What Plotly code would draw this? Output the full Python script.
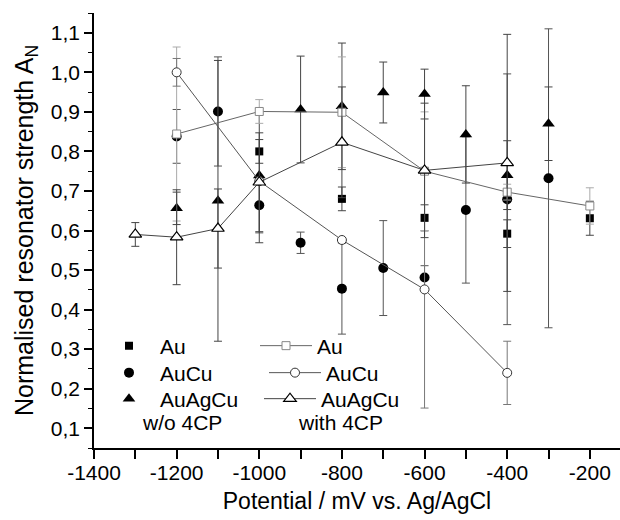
import plotly.graph_objects as go

# ---- data ----
x_au = [-1000, -800, -600, -400, -200]
y_au = [0.800, 0.680, 0.632, 0.592, 0.631]
e_au = [0.030, 0.030, 0.033, 0.035, 0.043]

x_aucu = [-1200, -1100, -1000, -900, -800, -700, -600, -500, -400, -300]
y_aucu = [0.838, 0.901, 0.664, 0.569, 0.453, 0.505, 0.481, 0.652, 0.679, 0.732]
e_aucu = [0.068, 0.138, 0.070, 0.027, 0.115, 0.120, 0.030, 0.185, 0.317, 0.378]

x_auagcu = [-1200, -1100, -1000, -900, -800, -700, -600, -500, -400, -300]
y_auagcu = [0.656, 0.675, 0.739, 0.906, 0.914, 0.949, 0.945, 0.843, 0.740, 0.870]
e_auagcu = [0.041, 0.355, 0.170, 0.135, 0.160, 0.077, 0.063, 0.123, 0.087, 0.093]

x_au4 = [-1200, -1000, -800, -600, -400, -200]
y_au4 = [0.844, 0.901, 0.899, 0.750, 0.697, 0.662]
e_au4 = [0.220, 0.030, 0.140, 0.150, 0.020, 0.046]

x_aucu4 = [-1200, -1000, -800, -600, -400]
y_aucu4 = [1.000, 0.725, 0.576, 0.451, 0.240]
e_aucu4 = [0.035, 0.000, 0.000, 0.300, 0.080]

x_auagcu4 = [-1300, -1200, -1100, -1000, -800, -600, -400]
y_auagcu4 = [0.590, 0.583, 0.605, 0.722, 0.823, 0.752, 0.771]
e_auagcu4 = [0.030, 0.120, 0.100, 0.125, 0.140, 0.170, 0.325]

x_tickvals = [-1400, -1300, -1200, -1100, -1000, -900, -800, -700, -600, -500, -400, -300, -200]
x_ticktext = ["-1400", "", "-1200", "", "-1000", "", "-800", "", "-600", "", "-400", "", "-200"]
y_tickvals = [0.1, 0.2, 0.3, 0.4, 0.5, 0.6, 0.7, 0.8, 0.9, 1.0, 1.1]
y_ticktext = ["0,1", "0,2", "0,3", "0,4", "0,5", "0,6", "0,7", "0,8", "0,9", "1,0", "1,1"]

FONT = "Liberation Sans, Arial, sans-serif"

fig = go.Figure()

def err(vals, color):
    return dict(type="data", array=vals, visible=True, color=color, thickness=1, width=4)

# filled series (w/o 4CP)
fig.add_trace(go.Scatter(x=x_au, y=y_au, mode="markers", name="Au", legend="legend",
                         error_y=err(e_au, "#444444"),
                         marker=dict(symbol="square", size=8, color="black")))
fig.add_trace(go.Scatter(x=x_aucu, y=y_aucu, mode="markers", name="AuCu", legend="legend2",
                         error_y=err(e_aucu, "#555555"),
                         marker=dict(symbol="circle", size=10, color="black")))
fig.add_trace(go.Scatter(x=x_auagcu, y=y_auagcu, mode="markers", name="AuAgCu", legend="legend3",
                         error_y=err(e_auagcu, "#444444"),
                         marker=dict(symbol="triangle-up", size=11, color="black")))

# open series (with 4CP)
fig.add_trace(go.Scatter(x=x_au4, y=y_au4, mode="lines+markers", name="Au", legend="legend4",
                         error_y=err(e_au4, "#aaaaaa"),
                         line=dict(color="#666666", width=1),
                         marker=dict(symbol="square", size=8, color="white",
                                     line=dict(color="#888888", width=1))))
fig.add_trace(go.Scatter(x=x_aucu4, y=y_aucu4, mode="lines+markers", name="AuCu", legend="legend5",
                         error_y=err(e_aucu4, "#777777"),
                         line=dict(color="#555555", width=1),
                         marker=dict(symbol="circle", size=9, color="white",
                                     line=dict(color="#333333", width=1))))
fig.add_trace(go.Scatter(x=x_auagcu4, y=y_auagcu4, mode="lines+markers", name="AuAgCu", legend="legend6",
                         error_y=err(e_auagcu4, "#444444"),
                         line=dict(color="#444444", width=1),
                         marker=dict(symbol="triangle-up", size=11, color="white",
                                     line=dict(color="black", width=1.2))))

def leg(x, y):
    return dict(x=x, y=y, xanchor="left", yanchor="middle",
                font=dict(family=FONT, size=21, color="black"),
                bgcolor="rgba(0,0,0,0)", borderwidth=0, itemwidth=52,
                itemclick=False, itemdoubleclick=False)

fig.update_layout(
    width=620, height=520,
    margin=dict(l=94, r=0, t=13, b=72),
    paper_bgcolor="white", plot_bgcolor="white",
    font=dict(family=FONT, size=21, color="black"),
    showlegend=True,
    legend=leg(0.0076, 0.2345),
    legend2=leg(0.0076, 0.1724),
    legend3=leg(0.0076, 0.1126),
    legend4=leg(0.3061, 0.2345),
    legend5=leg(0.3232, 0.1724),
    legend6=leg(0.3137, 0.1126),
    xaxis=dict(range=[-1400, -127], tickmode="array", tickvals=x_tickvals, ticktext=x_ticktext,
               ticks="outside", ticklen=9, tickwidth=1.5, tickcolor="black",
               showline=True, linecolor="black", linewidth=1.5, showgrid=False, zeroline=False,
               tickfont=dict(family=FONT, size=21), ticklabelstandoff=-4,
               title=dict(text="Potential / mV vs. Ag/AgCl", font=dict(family=FONT, size=23), standoff=10)),
    yaxis=dict(range=[0.05, 1.15], tickmode="array", tickvals=y_tickvals, ticktext=y_ticktext,
               ticks="outside", ticklen=8, tickwidth=1.5, tickcolor="black",
               minor=dict(dtick=0.05, tick0=0.05, ticks="outside", ticklen=4, tickwidth=1.2, tickcolor="black"),
               showline=True, linecolor="black", linewidth=1.5, showgrid=False, zeroline=False,
               tickfont=dict(family=FONT, size=21),
               title=dict(text="Normalised resonator strength A<sub>N</sub>", font=dict(family=FONT, size=25), standoff=10)),
    annotations=[
        dict(text="w/o 4CP", xref="paper", yref="paper", x=0.1673, y=0.0575, xanchor="center", yanchor="middle",
             showarrow=False, font=dict(family=FONT, size=21)),
        dict(text="with 4CP", xref="paper", yref="paper", x=0.469, y=0.0575, xanchor="center", yanchor="middle",
             showarrow=False, font=dict(family=FONT, size=21)),
    ],
)

fig.write_html("out.html")
